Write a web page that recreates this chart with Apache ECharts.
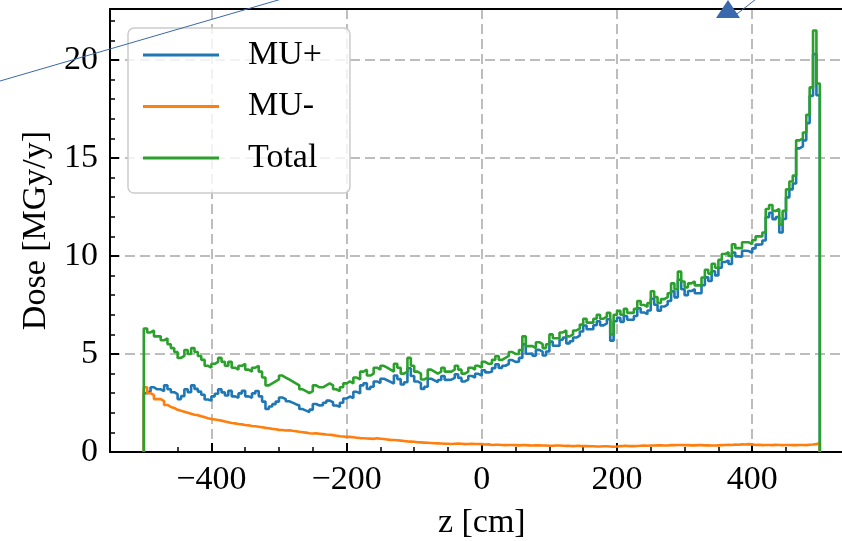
<!DOCTYPE html>
<html lang="en">
<head>
    <meta charset="UTF-8">
    <title>Dose vs z</title>
    <script src="https://cdn.jsdelivr.net/npm/echarts@6/dist/echarts.min.js"></script>
    <style>
        html, body { margin: 0; padding: 0; background: #fff; }
        #chart { width: 842px; height: 541px; }
    </style>
</head>
<body>
<div id="chart"></div>
<script>
    // histogram bins: 5 cm wide, from -500 to 500 cm
    var binStart = -500;
    var binWidth = 5;

    // MU+ dose per bin [MGy/y]
    var muPlus = [
        3.0, 3.1, 3.3, 3.2, 3.2, 3.1, 3.4, 3.2, 3.05, 2.95,
        2.7, 2.85, 3.2, 3.05, 3.4, 3.22, 3.08, 2.92, 2.68, 2.62,
        2.84, 2.97, 3.2, 3.04, 2.88, 3.12, 2.84, 2.77, 2.99, 3.12,
        2.84, 2.77, 2.99, 3.11, 2.84, 2.57, 2.19, 2.32, 2.44, 2.57,
        2.78, 2.7, 2.59, 2.52, 2.44, 2.37, 2.19, 2.11, 2.04, 2.16,
        2.45, 2.37, 2.39, 2.51, 2.62, 2.54, 2.37, 2.3, 2.51, 2.73,
        2.83, 2.75, 3.07, 2.99, 3.4, 3.51, 3.22, 3.33, 3.6, 3.52,
        3.74, 3.66, 3.58, 3.49, 3.9, 3.72, 3.44, 3.56, 4.27, 3.88,
        3.6, 3.51, 3.22, 3.33, 3.74, 3.65, 3.56, 3.67, 3.88, 3.68,
        3.69, 3.78, 3.97, 3.78, 3.6, 3.69, 3.88, 3.79, 3.99, 3.9,
        4.17, 4.06, 4.09, 4.28, 4.48, 4.29, 4.4, 4.49, 4.69, 4.6,
        4.61, 4.8, 5.5, 5.01, 5.02, 4.91, 5.21, 5.12, 4.92, 5.13,
        5.63, 5.42, 5.42, 5.73, 5.84, 5.54, 5.65, 5.84, 5.94, 6.15,
        6.45, 6.26, 6.26, 6.47, 6.67, 6.46, 6.56, 6.77, 5.68, 6.67,
        6.85, 6.64, 6.94, 6.75, 6.75, 6.94, 7.33, 7.12, 7.03, 7.22,
        7.82, 7.51, 7.21, 7.42, 7.52, 7.7, 8.2, 7.89, 8.79, 8.3,
        8.0, 8.21, 8.31, 8.1, 8.1, 8.51, 8.91, 8.72, 9.22, 9.01,
        9.4, 9.69, 9.78, 9.59, 10.17, 9.98, 9.96, 10.27, 10.25, 10.16,
        10.39, 10.58, 10.6, 10.79, 11.98, 12.2, 11.88, 11.99, 11.2, 11.89,
        12.99, 13.4, 13.7, 15.49, 15.59, 15.9, 16.78, 18.17, 20.3, 18.2
    ];

    // MU- dose per bin
    var muMinus = [
        3.3, 3.0, 2.9, 2.7, 2.7, 2.6, 2.4, 2.3, 2.25, 2.15,
        2.1, 2.05, 2.0, 1.95, 1.9, 1.88, 1.82, 1.78, 1.72, 1.68,
        1.66, 1.63, 1.6, 1.56, 1.52, 1.48, 1.46, 1.43, 1.41, 1.38,
        1.36, 1.33, 1.31, 1.29, 1.26, 1.23, 1.21, 1.18, 1.16, 1.13,
        1.12, 1.1, 1.11, 1.08, 1.06, 1.03, 1.01, 0.99, 0.96, 0.94,
        0.95, 0.93, 0.91, 0.89, 0.88, 0.86, 0.83, 0.8, 0.79, 0.77,
        0.77, 0.75, 0.73, 0.71, 0.7, 0.69, 0.68, 0.67, 0.7, 0.68,
        0.66, 0.64, 0.62, 0.61, 0.6, 0.58, 0.56, 0.54, 0.53, 0.52,
        0.5, 0.49, 0.48, 0.47, 0.46, 0.45, 0.44, 0.43, 0.42, 0.42,
        0.41, 0.42, 0.43, 0.42, 0.4, 0.41, 0.42, 0.41, 0.41, 0.4,
        0.38, 0.39, 0.36, 0.37, 0.37, 0.36, 0.35, 0.36, 0.36, 0.35,
        0.34, 0.35, 0.35, 0.34, 0.33, 0.34, 0.34, 0.33, 0.33, 0.32,
        0.32, 0.33, 0.33, 0.32, 0.31, 0.31, 0.3, 0.31, 0.31, 0.3,
        0.3, 0.29, 0.29, 0.28, 0.28, 0.29, 0.29, 0.28, 0.27, 0.28,
        0.3, 0.31, 0.31, 0.3, 0.3, 0.31, 0.32, 0.33, 0.32, 0.33,
        0.33, 0.34, 0.34, 0.33, 0.33, 0.35, 0.35, 0.36, 0.36, 0.35,
        0.35, 0.34, 0.34, 0.35, 0.35, 0.34, 0.34, 0.33, 0.33, 0.34,
        0.35, 0.36, 0.37, 0.36, 0.38, 0.37, 0.39, 0.38, 0.4, 0.39,
        0.36, 0.37, 0.35, 0.36, 0.36, 0.35, 0.37, 0.36, 0.35, 0.36,
        0.36, 0.35, 0.35, 0.36, 0.36, 0.35, 0.37, 0.38, 0.4, 0.46
    ];

    // Total dose per bin
    var total = [
        6.3, 6.1, 6.2, 5.9, 5.9, 5.7, 5.8, 5.5, 5.3, 5.1,
        4.8, 4.9, 5.2, 5.0, 5.3, 5.1, 4.9, 4.7, 4.4, 4.3,
        4.5, 4.6, 4.8, 4.6, 4.4, 4.6, 4.3, 4.2, 4.4, 4.5,
        4.2, 4.1, 4.3, 4.4, 4.1, 3.8, 3.4, 3.5, 3.6, 3.7,
        3.9, 3.8, 3.7, 3.6, 3.5, 3.4, 3.2, 3.1, 3.0, 3.1,
        3.4, 3.3, 3.3, 3.4, 3.5, 3.4, 3.2, 3.1, 3.3, 3.5,
        3.6, 3.5, 3.8, 3.7, 4.1, 4.2, 3.9, 4.0, 4.3, 4.2,
        4.4, 4.3, 4.2, 4.1, 4.5, 4.3, 4.0, 4.1, 4.8, 4.4,
        4.1, 4.0, 3.7, 3.8, 4.2, 4.1, 4.0, 4.1, 4.3, 4.1,
        4.1, 4.2, 4.4, 4.2, 4.0, 4.1, 4.3, 4.2, 4.4, 4.3,
        4.6, 4.5, 4.5, 4.7, 4.9, 4.7, 4.8, 4.9, 5.1, 5.0,
        5.0, 5.2, 5.9, 5.4, 5.4, 5.3, 5.6, 5.5, 5.3, 5.5,
        6.0, 5.8, 5.8, 6.1, 6.2, 5.9, 6.0, 6.2, 6.3, 6.5,
        6.8, 6.6, 6.6, 6.8, 7.0, 6.8, 6.9, 7.1, 6.0, 7.0,
        7.2, 7.0, 7.3, 7.1, 7.1, 7.3, 7.7, 7.5, 7.4, 7.6,
        8.2, 7.9, 7.6, 7.8, 7.9, 8.1, 8.6, 8.3, 9.2, 8.7,
        8.4, 8.6, 8.7, 8.5, 8.5, 8.9, 9.3, 9.1, 9.6, 9.4,
        9.8, 10.1, 10.2, 10.0, 10.6, 10.4, 10.4, 10.7, 10.7, 10.6,
        10.8, 11.0, 11.0, 11.2, 12.4, 12.6, 12.3, 12.4, 11.6, 12.3,
        13.4, 13.8, 14.1, 15.9, 16.0, 16.3, 17.2, 18.6, 21.5, 18.8
    ];

    var seriesNames = ['MU+', 'MU-', 'Total'];
    var colors = ['#1f77b4', '#ff7f0e', '#2ca02c'];

    var font = "'Liberation Serif', 'DejaVu Serif', serif";

    // turn bin values into a step outline that drops to 0 at both ends
    function toSteps(vals) {
        var pts = [[binStart, 0]];
        vals.forEach(function (v, i) {
            pts.push([binStart + i * binWidth, v]);
        });
        var end = binStart + vals.length * binWidth;
        pts.push([end, vals[vals.length - 1]]);
        pts.push([end, 0]);
        return pts;
    }

    function minus(v) {
        return String(v).replace('-', '\u2212');
    }

    var chart = echarts.init(document.getElementById('chart'), null, { renderer: 'canvas' });

    var option = {
        animation: false,
        backgroundColor: '#fff',
        grid: { left: 110, top: 9, width: 743.6, height: 443, containLabel: false, outerBoundsMode: 'none' },
        legend: {
            left: 128,
            top: 28,
            orient: 'vertical',
            data: seriesNames.map(function (n) { return { name: n, icon: 'rect' }; }),
            itemWidth: 76,
            itemHeight: 3,
            itemGap: 11.5,
            padding: [7, 28, 15, 15],
            backgroundColor: 'rgba(255,255,255,0.8)',
            borderColor: '#cccccc',
            borderWidth: 1.5,
            borderRadius: 6,
            textStyle: {
                fontFamily: font,
                fontSize: 34,
                color: '#000',
                lineHeight: 40,
                padding: [0, 0, 0, 24]
            }
        },
        xAxis: [{
            type: 'value',
            position: 'bottom',
            min: -550,
            max: 550,
            name: 'z [cm]',
            nameLocation: 'middle',
            nameGap: 54,
            nameTextStyle: { fontFamily: font, fontSize: 34, color: '#000' },
            axisLine: { show: true, onZero: false, lineStyle: { color: '#000', width: 2 } },
            axisTick: { show: true, inside: true, length: 9, lineStyle: { color: '#000', width: 2 } },
            axisLabel: {
                margin: 11,
                fontFamily: font,
                fontSize: 34,
                color: '#000',
                showMinLabel: false,
                showMaxLabel: false,
                formatter: minus
            },
            splitLine: { show: true, lineStyle: { color: '#bdbdbd', width: 2, type: [10, 5] } }
        }, {
            // minor ticks every 50 cm
            type: 'value',
            position: 'bottom',
            min: -550,
            max: 550,
            interval: 50,
            axisLine: { show: false, onZero: false },
            axisTick: { show: true, inside: true, length: 5, lineStyle: { color: '#000', width: 1.5 } },
            axisLabel: { show: false },
            splitLine: { show: false }
        }, {
            // top spine
            type: 'value',
            position: 'top',
            min: -550,
            max: 550,
            axisLine: { show: true, onZero: false, lineStyle: { color: '#000', width: 2 } },
            axisTick: { show: false },
            axisLabel: { show: false },
            splitLine: { show: false }
        }],
        yAxis: [{
            type: 'value',
            position: 'left',
            min: 0,
            max: 22.6,
            name: 'Dose [MGy/y]',
            nameLocation: 'middle',
            nameGap: 55,
            nameTextStyle: { fontFamily: font, fontSize: 34, color: '#000' },
            axisLine: { show: true, onZero: false, lineStyle: { color: '#000', width: 2 } },
            axisTick: { show: true, inside: true, length: 9, lineStyle: { color: '#000', width: 2 } },
            axisLabel: {
                margin: 12,
                fontFamily: font,
                fontSize: 34,
                color: '#000',
                showMaxLabel: false
            },
            splitLine: { show: true, lineStyle: { color: '#bdbdbd', width: 2, type: [10, 5] } }
        }, {
            // minor ticks every 1 MGy/y
            type: 'value',
            position: 'left',
            min: 0,
            max: 22.6,
            interval: 1,
            axisLine: { show: false, onZero: false },
            axisTick: { show: true, inside: true, length: 5, lineStyle: { color: '#000', width: 1.5 } },
            axisLabel: { show: false },
            splitLine: { show: false }
        }],
        series: [muPlus, muMinus, total].map(function (vals, i) {
            return {
                name: seriesNames[i],
                type: 'line',
                xAxisIndex: 0,
                yAxisIndex: 0,
                step: 'end',
                symbol: 'none',
                clip: true,
                itemStyle: { color: colors[i] },
                lineStyle: { color: colors[i], width: 2.6 },
                data: toSteps(vals),
                z: 3 + i
            };
        }),
        graphic: [{
            type: 'line',
            shape: { x1: 0, y1: 81, x2: 292, y2: -4 },
            style: { stroke: '#3a68ad', lineWidth: 1 },
            z: 100
        }, {
            type: 'line',
            shape: { x1: 733, y1: 17, x2: 760, y2: -4 },
            style: { stroke: '#3a68ad', lineWidth: 1 },
            z: 100
        }, {
            type: 'polygon',
            shape: { points: [[716, 18], [740, 18], [728, 0]] },
            style: { fill: '#3a68ad' },
            z: 100
        }]
    };

    chart.setOption(option);
</script>
</body>
</html>
